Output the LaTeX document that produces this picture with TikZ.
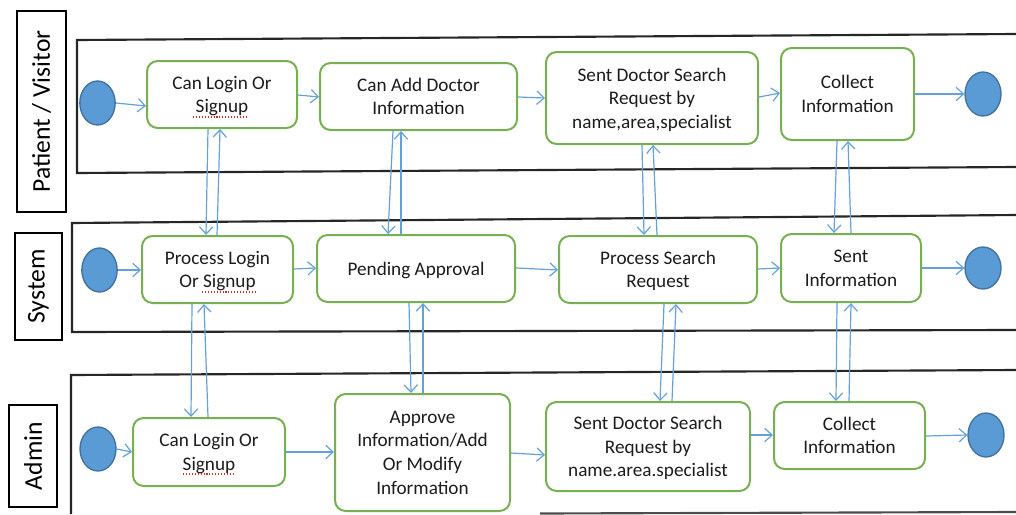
\documentclass[tikz,border=0pt]{standalone}
\usepackage{fontspec}
\setmainfont{Carlito}
\usetikzlibrary{arrows.meta,calc,shapes.geometric}

\definecolor{actgreen}{RGB}{119,176,80}
\definecolor{flowblue}{RGB}{100,160,218}
\definecolor{dotfill}{RGB}{91,155,213}
\definecolor{dotline}{RGB}{65,113,156}
\definecolor{inktext}{RGB}{28,28,28}
\definecolor{spellred}{RGB}{225,40,40}

\begin{document}
\begin{tikzpicture}[x=0.75pt,y=-0.75pt,
  act/.style={draw=actgreen, line width=1.5pt, rounded corners=8pt, fill=white,
    inner sep=0pt, align=center, text=inktext, text depth=0pt,
    font=\fontsize{14.4}{17.7}\selectfont},
  dot/.style={ellipse, draw=dotline, line width=1pt, fill=dotfill, inner sep=0pt,
    minimum width=26.5pt, minimum height=33pt},
  flow/.style={draw=flowblue, line width=0.9pt,
    -{Straight Barb[length=5.5pt,width=10pt,line width=0.9pt]}},
  lane/.style={line width=1.6pt, draw=black!85},
  lanelabel/.style={draw, line width=0.9pt, rotate=90, inner sep=0pt,
    font=\fontsize{19.2}{22}\selectfont},
  spell/.style={draw=spellred, line width=0.8pt, dash pattern=on 0.8pt off 1.4pt}
]
\useasboundingbox (0,0) rectangle (1016,514);

% ---- swimlane frames ----
\draw[lane] (1016,34) -- (77,40) -- (77,173) -- (1016,167);
\draw[lane] (1016,215) -- (72,223) -- (72,332) -- (1016,330);
\draw[lane] (1016,370) -- (71,375) -- (71,514);
\draw[lane, draw=black!70] (540,513.5) -- (1016,512);

% ---- lane titles ----
\node[lanelabel, minimum width=150.75pt, minimum height=36.75pt] (lanePatient) at (41.5,111.5) {Patient / Visitor};
\node[lanelabel, minimum width=80.25pt, minimum height=35.25pt] (laneSystem) at (38.5,286.5) {System};
\node[lanelabel, minimum width=76.5pt, minimum height=36pt] (laneAdmin) at (33,456) {Admin};

% ---- patient / visitor lane ----
\node[dot] (pStart) at (97.5,103) {};
\node[act, minimum width=112.5pt, minimum height=50.25pt] (pLogin) at (222,94.5) {Can Login Or\\Signup};
\node[act, minimum width=147.75pt, minimum height=50.25pt] (pAdd) at (418.5,96.5) {Can Add Doctor\\Information};
\node[act, minimum width=159pt, minimum height=69pt] (pSearch) at (652,98) {Sent Doctor Search\\Request by\\name,area,specialist};
\node[act, minimum width=99.75pt, minimum height=69pt] (pCollect) at (847.5,94) {Collect\\Information};
\node[dot, minimum width=27pt] (pEnd) at (983,94) {};

% ---- system lane ----
\node[dot] (sStart) at (99.5,270) {};
\node[act, minimum width=113.25pt, minimum height=50.25pt] (sLogin) at (217.5,269.5) {Process Login\\Or Signup};
\node[act, minimum width=148.5pt, minimum height=50.25pt] (sPend) at (416,268.5) {Pending Approval};
\node[act, minimum width=148.5pt, minimum height=50.25pt] (sSearch) at (658,269.5) {Process Search\\Request};
\node[act, minimum width=105pt, minimum height=51pt] (sSent) at (851,268) {Sent\\Information};
\node[dot, minimum width=27pt, minimum height=31.5pt] (sEnd) at (983,268) {};

% ---- admin lane ----
\node[dot, minimum width=27pt] (aStart) at (98,449) {};
\node[act, minimum width=114pt, minimum height=51pt] (aLogin) at (209,452) {Can Login Or\\Signup};
\node[act, minimum width=131.25pt, minimum height=87.75pt] (aApprove) at (422.5,452.5) {Approve\\Information/Add\\Or Modify\\Information};
\node[act, minimum width=153pt, minimum height=66.75pt] (aSearch) at (648,446.5) {Sent Doctor Search\\Request by\\name.area.specialist};
\node[act, minimum width=113.25pt, minimum height=50.25pt] (aCollect) at (849.5,435.5) {Collect\\Information};
\node[dot, minimum width=27pt] (aEnd) at (986,435) {};

% ---- spell-check underlines below "Signup" ----
\draw[spell] ($(pLogin.center)+(-29,22.5)$) -- ($(pLogin.center)+(26,22.5)$);
\draw[spell] ($(sLogin.center)+(-15.5,22.5)$) -- ($(sLogin.center)+(37.5,22.5)$);
\draw[spell] ($(aLogin.center)+(-26,22)$) -- ($(aLogin.center)+(26,22)$);

% ---- flow within the patient / visitor lane ----
\draw[flow] (pStart.east) -- (pLogin.west |- 0,106);
\draw[flow] (pLogin.east |- 0,95) -- (pAdd.west |- 0,97);
\draw[flow] (pAdd.east |- 0,97) -- (pSearch.west |- 0,98);
\draw[flow] (pSearch.east |- 0,97) -- (pCollect.west |- 0,93);
\draw[flow] (pCollect.east |- 0,94) -- (pEnd.west);

% ---- flow within the system lane ----
\draw[flow] (sStart.east) -- (sLogin.west |- 0,270);
\draw[flow] (sLogin.east |- 0,269) -- (sPend.west |- 0,268);
\draw[flow] (sPend.east |- 0,268) -- (sSearch.west |- 0,270);
\draw[flow] (sSearch.east |- 0,269) -- (sSent.west |- 0,268);
\draw[flow] (sSent.east |- 0,268) -- (sEnd.west);

% ---- flow within the admin lane ----
\draw[flow] (aStart.east) -- (aLogin.west |- 0,452);
\draw[flow] (aLogin.east |- 0,452) -- (aApprove.west |- 0,452);
\draw[flow] (aApprove.east |- 0,453) -- (aSearch.west |- 0,455);
\draw[flow] (aSearch.east |- 0,435) -- (aCollect.west |- 0,435);
\draw[flow] (aCollect.east |- 0,436) -- (aEnd.west);

% ---- exchanges between lanes: login ----
\draw[flow] (208,0 |- pLogin.south) -- (206,0 |- sLogin.north);
\draw[flow] (217,0 |- sLogin.north) -- (220,0 |- pLogin.south);
\draw[flow] (192,0 |- sLogin.south) -- (191,0 |- aLogin.north);
\draw[flow] (208,0 |- aLogin.north) -- (204,0 |- sLogin.south);

% ---- doctor information / approval ----
\draw[flow] (393,0 |- pAdd.south) -- (388,0 |- sPend.north);
\draw[flow] (401,0 |- sPend.north) -- (401,0 |- pAdd.south);
\draw[flow] (409,0 |- sPend.south) -- (411,0 |- aApprove.north);
\draw[flow] (423,0 |- aApprove.north) -- (423,0 |- sPend.south);

% ---- search requests ----
\draw[flow] (642,0 |- pSearch.south) -- (644,0 |- sSearch.north);
\draw[flow] (657,0 |- sSearch.north) -- (653,0 |- pSearch.south);
\draw[flow] (664,0 |- sSearch.south) -- (660,0 |- aSearch.north);
\draw[flow] (672,0 |- aSearch.north) -- (676,0 |- sSearch.south);

% ---- collected / sent information ----
\draw[flow] (837,0 |- pCollect.south) -- (834,0 |- sSent.north);
\draw[flow] (851,0 |- sSent.north) -- (848,0 |- pCollect.south);
\draw[flow] (837,0 |- sSent.south) -- (836,0 |- aCollect.north);
\draw[flow] (849,0 |- aCollect.north) -- (851,0 |- sSent.south);
\end{tikzpicture}
\end{document}
